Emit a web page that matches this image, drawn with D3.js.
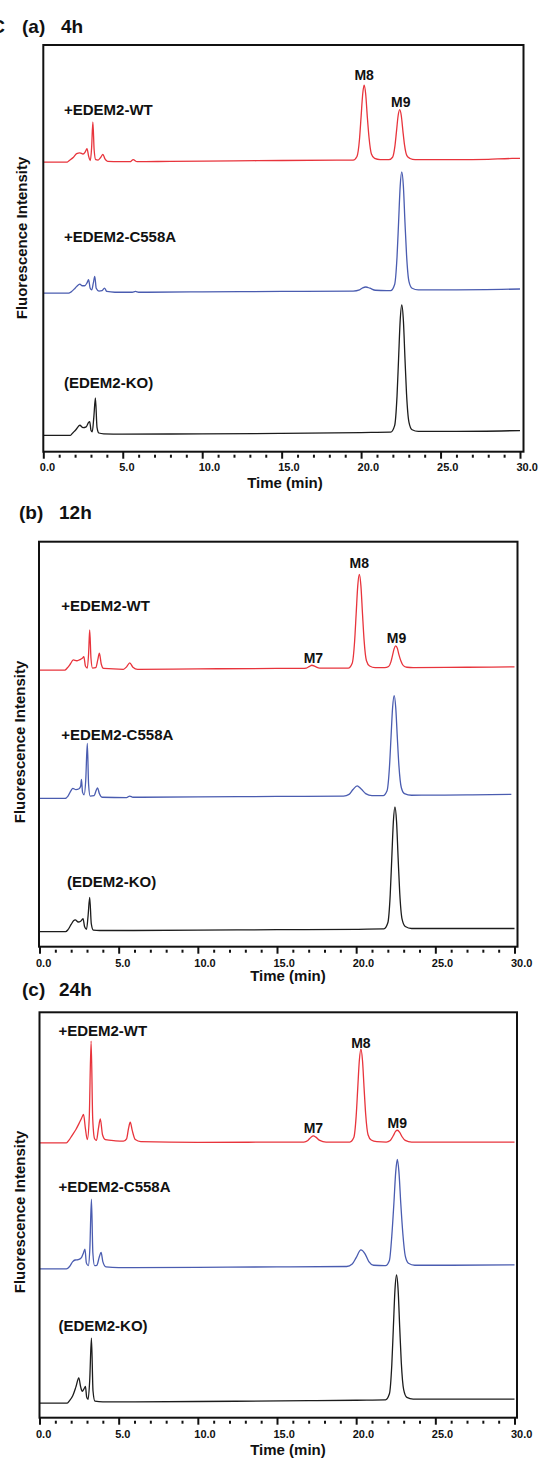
<!DOCTYPE html>
<html>
<head>
<meta charset="utf-8">
<script src="https://cdn.jsdelivr.net/npm/d3@7"></script>
<style>
  html, body { margin: 0; padding: 0; background: #fff; }
  svg { display: block; }
  text { font-family: "Liberation Sans", Arial, sans-serif; font-weight: bold; fill: #111; }
</style>
</head>
<body>
<svg id="chart" width="539" height="1459"></svg>
<script>
// ---------------- DATA ----------------
const panelTags = ["(a)", "(b)", "(c)"];
const panelTimes = ["4h", "12h", "24h"];
const seriesNames = ["+EDEM2-WT", "+EDEM2-C558A", "(EDEM2-KO)"];
const peakNames = ["M7", "M8", "M9"];
const tickValues = [0, 5, 10, 15, 20, 25, 30];
const tickLabels = ["0.0", "5.0", "10.0", "15.0", "20.0", "25.0", "30.0"];
const xTitle = "Time (min)";
const yTitle = "Fluorescence Intensity";

// [time (min), intensity above trace baseline]
const wt4h = [[0,0],[1.5,0],[1.6,0.3],[1.9,1.2],[2.1,2.1],[2.3,2.3],[2.5,2.0],[2.65,2.6],[2.75,3.3],[2.85,1.5],[2.96,0.4],[3.04,3.5],[3.12,9.9],[3.2,3.0],[3.3,0.6],[3.45,0.5],[3.62,1.2],[3.75,1.9],[3.88,0.8],[4.05,0.2],[4.8,0.1],[5.45,0.1],[5.66,0.6],[5.9,0.1],[8,0.2],[12,0.3],[15,0.4],[19.3,0.5],
  [19.5,0.5],[19.74,1.4],[19.9,5.7],[20.0,11.2],[20.1,16.7],[20.19,18.9],[20.29,16.7],[20.39,11.2],[20.5,6.0],[20.65,2.0],[20.85,0.9],[21.2,0.6],
  [21.75,0.6],[21.98,1.2],[22.13,4.0],[22.23,7.7],[22.33,11.4],[22.43,12.9],[22.53,11.4],[22.63,7.7],[22.73,4.3],[22.88,1.6],[23.08,0.9],[23.4,0.6],[26,0.6],[28,0.7],[29.5,0.9],[30,0.9]];
const mut4h = [[0,0],[1.6,0],[1.75,0.3],[2.0,1.2],[2.2,2.0],[2.3,2.2],[2.45,1.8],[2.6,1.8],[2.75,2.5],[2.85,3.3],[2.95,1.2],[3.05,0.8],[3.15,2.5],[3.24,4.1],[3.33,1.2],[3.5,0.5],[3.7,0.6],[3.85,1.2],[4.0,0.4],[4.5,0.2],[5.6,0.2],[5.8,0.4],[6.0,0.2],[10,0.3],[15,0.4],[19.5,0.5],[19.9,0.8],[20.1,1.3],[20.3,1.5],[20.55,1.2],[20.9,0.7],[21.6,0.6],
  [21.86,0.6],[22.11,2.1],[22.26,8.8],[22.36,17.5],[22.46,26.3],[22.56,29.8],[22.66,26.3],[22.76,17.5],[22.86,9.4],[23.01,2.9],[23.21,1.2],[23.6,0.8],[26,0.8],[30,1.0]];
const ko4h = [[0,0],[1.7,0],[1.85,0.6],[2.05,1.4],[2.3,2.5],[2.5,1.9],[2.7,2.1],[2.85,3.2],[2.92,3.4],[3.0,1.3],[3.08,0.9],[3.18,4.5],[3.28,9.2],[3.38,2.0],[3.5,0.6],[3.8,0.4],[5,0.3],[10,0.4],[15,0.5],[20,0.7],[21.8,0.8],
  [21.86,0.8],[22.11,2.4],[22.26,9.6],[22.36,19.0],[22.46,28.3],[22.56,32.1],[22.66,28.3],[22.76,19.0],[22.86,10.2],[23.01,3.3],[23.21,1.4],[23.6,1.0],[26,1.0],[30,1.2]];

const wt12h = [[0,0],[1.6,0],[1.75,0.5],[1.95,1.5],[2.13,2.5],[2.35,2.3],[2.55,2.6],[2.7,2.9],[2.8,3.3],[2.9,1.0],[3.02,0.5],[3.1,4.0],[3.17,9.9],[3.25,3.0],[3.35,0.5],[3.55,0.6],[3.68,2.5],[3.78,4.2],[3.9,1.5],[4.05,0.4],[5.3,0.2],[5.5,0.8],[5.7,1.8],[5.9,0.7],[6.2,0.2],[10,0.3],[15,0.4],[16.6,0.4],
  [16.85,0.5],[17.05,0.9],[17.2,1.2],[17.4,0.9],[17.7,0.5],[19.4,0.5],
  [19.5,0.5],[19.75,1.7],[19.9,7.0],[20.0,13.9],[20.1,20.8],[20.2,23.6],[20.3,20.8],[20.4,13.9],[20.5,7.4],[20.65,2.3],[20.85,1.0],[21.2,0.6],
  [21.8,0.6],[22.05,0.9],[22.2,2.1],[22.3,3.7],[22.4,5.3],[22.5,6.0],[22.6,5.4],[22.7,3.8],[22.82,2.3],[22.98,1.1],[23.2,0.7],[23.6,0.6],[27,0.7],[30,0.8]];
const mut12h = [[0,0],[1.6,0],[1.8,0.6],[2.0,2.0],[2.1,2.5],[2.3,2.2],[2.5,2.4],[2.6,3.0],[2.65,4.7],[2.72,1.5],[2.82,0.9],[2.92,4.5],[3.02,13.6],[3.1,3.5],[3.2,0.6],[3.45,0.7],[3.58,2.0],[3.67,2.6],[3.78,1.2],[3.95,0.3],[5.5,0.2],[5.7,0.6],[5.9,0.3],[10,0.4],[15,0.5],[19.2,0.6],[19.55,1.0],[19.8,2.2],[20.06,3.1],[20.3,2.4],[20.6,1.2],[21.0,0.7],[21.7,0.7],
  [21.95,1.9],[22.1,7.6],[22.2,15.0],[22.3,22.4],[22.4,25.4],[22.5,22.4],[22.6,15.0],[22.7,8.1],[22.85,2.7],[23.05,1.2],[23.5,0.8],[27,0.9],[29.8,1.0]];
const ko12h = [[0,0],[1.65,0],[1.8,0.5],[2.0,1.8],[2.15,2.7],[2.26,2.9],[2.45,2.4],[2.6,2.6],[2.75,3.2],[2.85,1.2],[2.97,0.6],[3.07,4.0],[3.17,8.5],[3.27,2.0],[3.4,0.4],[3.8,0.3],[5,0.3],[10,0.4],[15,0.5],[20,0.6],[21.7,0.7],
  [21.75,0.7],[22.0,2.2],[22.15,9.1],[22.25,18.2],[22.35,27.2],[22.45,30.8],[22.55,27.2],[22.65,18.2],[22.75,9.7],[22.9,3.1],[23.1,1.3],[23.5,0.8],[27,0.8],[30,0.8]];

const wt24h = [[0,0],[1.7,0],[1.85,0.6],[2.05,1.8],[2.3,3.3],[2.5,4.8],[2.65,6.0],[2.78,7.0],[2.9,3.5],[3.02,0.8],[3.14,6.0],[3.26,25.1],[3.36,6.0],[3.48,1.0],[3.6,0.6],[3.72,3.5],[3.84,5.9],[3.98,2.0],[4.16,0.8],[4.8,0.5],[5.3,0.4],[5.5,1.0],[5.62,3.5],[5.73,5.1],[5.86,3.0],[6.05,0.8],[6.4,0.3],[10,0.1],[16.4,0.2],
  [16.7,0.2],[16.95,0.6],[17.15,1.4],[17.3,1.7],[17.45,1.4],[17.7,0.6],[18.1,0.2],[19.5,0.2],
  [19.6,0.2],[19.85,1.3],[20.0,6.6],[20.1,13.5],[20.2,20.3],[20.3,23.1],[20.4,20.3],[20.5,13.5],[20.6,7.1],[20.75,2.0],[20.95,0.7],[21.3,0.3],
  [21.9,0.2],[22.15,0.6],[22.35,1.8],[22.5,2.9],[22.6,3.1],[22.75,2.6],[22.9,1.5],[23.1,0.6],[23.5,0.2],[30,0.2]];
const mut24h = [[0,0],[1.7,0],[1.9,0.6],[2.1,1.8],[2.25,2.2],[2.45,2.3],[2.65,2.8],[2.78,4.0],[2.87,4.9],[2.96,1.5],[3.08,0.8],[3.18,5.0],[3.28,17.2],[3.37,4.0],[3.48,0.8],[3.62,0.9],[3.78,3.0],[3.89,4.1],[4.0,1.8],[4.2,0.5],[5,0.3],[10,0.4],[15,0.5],[19.4,0.6],[19.75,1.2],[20.0,2.8],[20.3,4.7],[20.55,3.8],[20.8,1.8],[21.1,0.9],[21.8,0.8],
  [21.85,0.8],[22.1,2.1],[22.25,8.1],[22.38,16.0],[22.5,24.0],[22.6,27.0],[22.7,24.0],[22.82,16.0],[22.95,8.6],[23.1,3.2],[23.3,1.4],[23.7,0.9],[26,0.9],[30,1.0]];
const ko24h = [[0,0],[1.75,0],[1.9,0.6],[2.1,1.8],[2.3,4.0],[2.48,6.2],[2.6,4.0],[2.7,2.9],[2.82,3.6],[2.9,4.1],[2.98,1.5],[3.07,0.9],[3.17,5.5],[3.28,16.0],[3.38,3.0],[3.5,0.5],[4.0,0.3],[5,0.3],[10,0.4],[17,0.6],[20,0.7],[21.8,0.8],
  [21.85,0.8],[22.1,2.3],[22.25,9.4],[22.35,18.7],[22.45,27.9],[22.55,31.6],[22.65,27.9],[22.75,18.7],[22.85,10.0],[23.0,3.3],[23.2,1.4],[23.6,1.0],[26,1.0],[30,1.0]];

// peak annotation positions [peak name index, time, intensity of label baseline above trace]
const peaks4h = [[1, 20.19], [2, 22.5]];
const peaks12h = [[0, 17.3], [1, 20.2], [2, 22.55]];
const peaks24h = [[0, 17.3], [1, 20.3], [2, 22.6]];

// ---------------- LAYOUT ----------------
const colors = ["#e8343c", "#4a5cb0", "#1c1c1c"];
const panels = [
  { data: [wt4h, mut4h, ko4h], peaks: peaks4h,
    box: { l: 43.3, t: 45, r: 523.5, b: 451.7 }, x0: 43.3, x1: 520,
    offsets: [71.2, 39.0, 4.0],
    title: { tagX: 22, timeX: 61, y: 33 },
    labels: [[64, 115], [64, 241.7], [64, 388]],
    peakLabelY: [null, 80, 107.3],
    tickY: 19.5, xTitleY: 487.5, xTitleX: 285, yTitle: [22, 238] },
  { data: [wt12h, mut12h, ko12h], peaks: peaks12h,
    box: { l: 39, t: 541.7, r: 517.5, b: 946.7 }, x0: 39.5, x1: 514.5,
    offsets: [68.3, 36.6, 3.7],
    title: { tagX: 19, timeX: 59, y: 519.3 },
    labels: [[61.2, 611], [61.2, 740], [67, 887.3]],
    peakLabelY: [662.7, 568.3, 643.3],
    tickY: 20.3, xTitleY: 981, xTitleX: 288, yTitle: [20, 742] },
  { data: [wt24h, mut24h, ko24h], peaks: peaks24h,
    box: { l: 39.5, t: 1012.3, r: 517, b: 1417.7 }, x0: 39.5, x1: 514.5,
    offsets: [67.8, 36.7, 3.6],
    title: { tagX: 22, timeX: 59, y: 995.7 },
    labels: [[58.4, 1036], [58.4, 1191.7], [58.4, 1331]],
    peakLabelY: [1132.7, 1048.3, 1128.3],
    tickY: 20.3, xTitleY: 1455, xTitleX: 288, yTitle: [20, 1212] }
];

const svg = d3.select("#chart");
svg.append("rect").attr("width", 539).attr("height", 1459).attr("fill", "#fff");

// cut-off panel letter at far left
svg.append("text").attr("x", 5).attr("y", 33).attr("text-anchor", "end")
  .style("font-size", "19px").text("C");

panels.forEach((p, pi) => {
  const g = svg.append("g");
  const x = d3.scaleLinear().domain([0, 30]).range([p.x0, p.x1]);
  const y = d3.scaleLinear().domain([0, 100]).range([p.box.b, p.box.t]);

  // title
  g.append("text").attr("x", p.title.tagX).attr("y", p.title.y).style("font-size", "19px").text(panelTags[pi]);
  g.append("text").attr("x", p.title.timeX).attr("y", p.title.y).style("font-size", "19px").text(panelTimes[pi]);

  // traces
  p.data.forEach((series, si) => {
    const off = p.offsets[si];
    const line = d3.line().x(d => x(d[0])).y(d => y(d[1] + off)).curve(d3.curveMonotoneX);
    g.append("path").datum(series).attr("d", line)
      .attr("fill", "none").attr("stroke", colors[si]).attr("stroke-width", 1.3)
      .attr("stroke-linejoin", "round");
    g.append("text").attr("x", p.labels[si][0]).attr("y", p.labels[si][1])
      .style("font-size", "15px").text(seriesNames[si]);
  });

  // peak labels
  p.peaks.forEach(pk => {
    g.append("text").attr("x", x(pk[1])).attr("y", p.peakLabelY[pk[0]])
      .attr("text-anchor", "middle").style("font-size", "14px").text(peakNames[pk[0]]);
  });

  // frame
  g.append("rect").attr("x", p.box.l).attr("y", p.box.t)
    .attr("width", p.box.r - p.box.l).attr("height", p.box.b - p.box.t)
    .attr("fill", "none").attr("stroke", "#111").attr("stroke-width", 2);

  // major ticks
  const major = d3.axisBottom(x).tickValues(tickValues).tickSize(7)
    .tickFormat((d, i) => tickLabels[i]);
  const ga = g.append("g").attr("transform", `translate(0,${p.box.b})`).call(major);
  ga.select(".domain").remove();
  ga.selectAll(".tick line").attr("stroke", "#111").attr("stroke-width", 2);
  ga.selectAll(".tick text").attr("text-anchor", "start").attr("x", -4)
    .attr("y", p.tickY).attr("dy", 0).style("font-size", "11px").attr("fill", "#111")
    .style("font-family", '"Liberation Sans", Arial, sans-serif').style("font-weight", "bold");

  // minor ticks (dots)
  const minorVals = d3.range(0, 31).filter(d => d % 5 !== 0);
  const minor = d3.axisBottom(x).tickValues(minorVals).tickSize(3).tickFormat("");
  const gm = g.append("g").attr("transform", `translate(0,${p.box.b + 3})`).call(minor);
  gm.select(".domain").remove();
  gm.selectAll(".tick line").attr("stroke", "#111").attr("stroke-width", 2);

  // axis titles
  g.append("text").attr("x", p.xTitleX).attr("y", p.xTitleY).attr("text-anchor", "middle")
    .style("font-size", "15px").text(xTitle);
  g.append("text").attr("transform", `translate(${p.yTitle[0] + 5},${p.yTitle[1]}) rotate(-90)`)
    .attr("text-anchor", "middle").style("font-size", "15px").text(yTitle);
});
</script>
</body>
</html>
